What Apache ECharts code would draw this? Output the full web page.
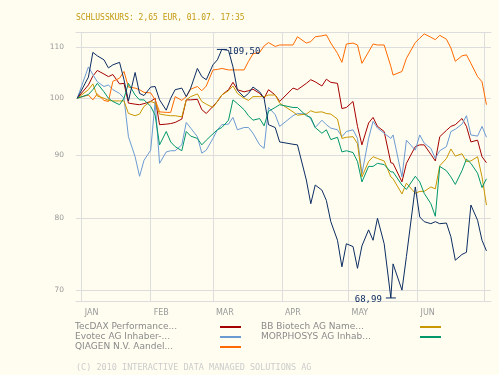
<!DOCTYPE html>
<html>
<head>
<meta charset="utf-8">
<script src="https://cdn.jsdelivr.net/npm/echarts@6/dist/echarts.min.js"></script>
<style>
	html, body { margin: 0; padding: 0; background: #fffdf0; }
	#chart { width: 499px; height: 375px; }
</style>
</head>
<body>
<div id="chart"></div>
<script>
var dates = ['2009-12-30', '2010-01-04', '2010-01-06', '2010-01-08', '2010-01-11', '2010-01-13', '2010-01-15', '2010-01-18', '2010-01-20', '2010-01-22', '2010-01-25', '2010-01-27', '2010-01-29',
	'2010-02-01', '2010-02-03', '2010-02-05', '2010-02-08', '2010-02-10', '2010-02-12', '2010-02-15', '2010-02-17', '2010-02-19', '2010-02-22', '2010-02-24', '2010-02-26',
	'2010-03-01', '2010-03-03', '2010-03-05', '2010-03-08', '2010-03-10', '2010-03-12', '2010-03-15', '2010-03-17', '2010-03-19', '2010-03-22', '2010-03-24', '2010-03-26', '2010-03-29', '2010-03-31',
	'2010-04-06', '2010-04-08', '2010-04-12', '2010-04-14', '2010-04-16', '2010-04-19', '2010-04-21', '2010-04-23', '2010-04-26', '2010-04-28', '2010-04-30',
	'2010-05-03', '2010-05-05', '2010-05-07', '2010-05-10', '2010-05-12', '2010-05-14', '2010-05-17', '2010-05-20', '2010-05-21', '2010-05-25', '2010-05-27', '2010-05-31',
	'2010-06-02', '2010-06-04', '2010-06-07', '2010-06-09', '2010-06-11', '2010-06-14', '2010-06-16', '2010-06-18', '2010-06-21', '2010-06-23', '2010-06-25', '2010-06-28', '2010-06-30', '2010-07-02'];

// Aktie (normiert auf 100)
var mainValues = [100, 104, 108.9, 108.2, 107.4, 105.8, 106.4, 106.9, 103.5, 99.5, 104.9, 100.9, 100.5,
	102.1, 102.2, 99.7, 97.8, 100.0, 101.6, 101.9, 100.3, 101.9, 105.7, 104.1, 103.5,
	106.4, 107.4, 109.5, 109.3, 106.0, 101.5, 100.2, 100.9, 102.1, 101.2, 100.0, 95.2, 94.7, 92.2,
	91.8, 91.7, 85.9, 82.2, 85.1, 84.3, 82.7, 79.5, 76.8, 73.1, 76.3,
	75.9, 72.9, 76.0, 78.3, 76.8, 80.0, 76.3, 68.99, 73.5, 70.0, 74.5, 84.8,
	80.2, 79.5, 79.2, 79.5, 79.2, 79.3, 77.3, 74.0, 74.8, 75.1, 82.0, 79.7, 76.8, 75.3];
var tecdaxValues = [100, 102.5, 104.2, 105.3, 104.6, 104.1, 104.5, 102.7, 102.8, 99.1, 98.9, 98.8, 99.0,
	99.4, 100.0, 95.2, 95.3, 95.4, 95.6, 96.2, 99.7, 99.7, 99.8, 97.9, 97.2,
	98.5, 99.4, 100.6, 101.6, 103.0, 101.6, 101.2, 101.4, 101.7, 100.9, 100.0, 101.6, 100.6, 99.4,
	101.9, 101.6, 102.8, 103.5, 103.1, 102.3, 103.6, 103.0, 102.8, 98.1, 98.3,
	99.4, 94.9, 91.7, 95.5, 96.5, 94.9, 94.0, 88.7, 88.6, 85.6, 88.6, 91.4,
	91.7, 91.7, 90.1, 89.0, 93.1, 94.2, 94.9, 95.2, 96.3, 94.9, 92.2, 92.5, 89.7, 88.7];
var evotecValues = [100, 106.0, 104.5, 103.1, 102.2, 102.5, 101.6, 100.9, 100.0, 93.1, 89.7, 86.5, 89.1,
	90.8, 99.4, 88.6, 90.5, 90.7, 90.7, 91.7, 95.6, 94.6, 93.1, 90.3, 90.8,
	92.8, 94.3, 95.2, 95.3, 96.5, 94.3, 94.7, 94.7, 93.7, 91.7, 91.1, 98.3, 97.0, 94.9,
	96.8, 97.2, 97.1, 96.2, 94.7, 96.0, 95.2, 94.6, 94.3, 93.1, 94.0,
	94.3, 92.8, 86.9, 92.8, 95.8, 94.6, 93.7, 92.8, 93.4, 86.4, 92.5, 90.8,
	93.4, 92.0, 91.1, 89.4, 90.7, 91.4, 94.0, 94.4, 95.3, 96.8, 93.4, 93.2, 94.9, 93.0];
var qiagenValues = [100, 100.6, 99.7, 100.8, 99.6, 99.4, 103.2, 103.8, 105.1, 102.1, 101.9, 101.6, 101.1,
	101.0, 99.7, 97.5, 97.4, 97.4, 100.3, 99.6, 100.3, 101.7, 102.2, 101.4, 102.3,
	105.4, 105.5, 105.7, 105.4, 105.4, 105.4, 105.4, 107.1, 108.6, 108.9, 110.2, 110.9, 110.1, 110.4,
	110.4, 112.1, 110.8, 111.1, 112.1, 112.3, 112.5, 110.8, 108.7, 106.9, 110.6,
	110.8, 110.4, 106.7, 109.0, 110.6, 110.4, 110.4, 106.1, 104.4, 105.1, 107.7, 110.9,
	111.8, 112.7, 112.0, 111.5, 112.4, 111.6, 109.8, 107.1, 108.2, 108.4, 106.7, 104.1, 103.1, 98.8];
var bbBiotechValues = [100, 101.6, 102.7, 100.4, 100.0, 99.6, 99.5, 99.5, 99.5, 97.2, 96.8, 97.1, 98.5,
	99.4, 99.1, 97.1, 96.9, 96.8, 96.8, 96.6, 99.7, 100.3, 100.8, 99.4, 98.9,
	98.3, 99.4, 100.6, 101.4, 102.3, 100.9, 100.0, 99.6, 100.3, 100.3, 100.3, 100.6, 100.6, 99.1,
	97.5, 96.9, 97.1, 97.7, 97.4, 97.5, 97.2, 97.1, 96.2, 92.8, 93.0,
	93.1, 91.9, 86.4, 88.9, 89.7, 89.4, 89.0, 86.4, 86.1, 83.7, 85.4, 83.8,
	84.1, 84.1, 84.8, 84.5, 88.2, 89.4, 91.0, 89.8, 90.2, 88.9, 89.0, 89.7, 86.4, 82.0];
var morphosysValues = [100, 100.7, 101.6, 102.8, 101.2, 100.0, 99.4, 98.8, 100.0, 102.8, 100.6, 99.7, 99.7,
	98.5, 96.9, 91.7, 94.0, 92.2, 91.4, 90.7, 94.0, 93.2, 92.8, 91.7, 92.5,
	93.6, 94.3, 94.7, 96.0, 99.7, 99.0, 97.9, 96.8, 96.0, 96.3, 95.0, 97.6, 98.3, 98.8,
	98.3, 98.3, 96.8, 96.5, 94.7, 93.7, 94.3, 92.6, 93.0, 90.5, 90.7,
	90.4, 88.9, 85.6, 88.1, 88.1, 88.6, 88.4, 87.2, 87.2, 85.1, 84.4, 86.5,
	85.6, 83.8, 82.2, 80.3, 88.1, 87.4, 86.4, 85.2, 87.4, 89.3, 88.6, 87.0, 84.7, 86.1];

var yTicks = [70, 80, 90, 100, 110];
var monthStarts = ['2010-01-01', '2010-02-01', '2010-03-01', '2010-04-01', '2010-05-01', '2010-06-01', '2010-07-01'];
var monthLabels = ['JAN', 'FEB', 'MAR', 'APR', 'MAY', 'JUN', ''];

var legendLeft = ['TecDAX Performance...', 'Evotec AG Inhaber-...', 'QIAGEN N.V. Aandel...'];
var legendRight = ['BB Biotech AG Name...', 'MORPHOSYS AG Inhab...'];

function toTime(s) {
	var p = s.split('-');
	return new Date(+p[0], +p[1] - 1, +p[2]).getTime();
}

var monthTimes = monthStarts.map(toTime);
var xMin = toTime('2009-12-29') + 10 * 3600000;
var xMax = toTime('2010-07-04') + 3600000;

function pairs(values) {
	var out = [];
	for(var i = 0; i < dates.length; i ++) {
		out.push([toTime(dates[i]), values[i]]);
	}
	return out;
}

function line(name, values, color) {
	return {
		name: name,
		type: 'line',
		showSymbol: false,
		symbol: 'none',
		data: pairs(values),
		lineStyle: { color: color, width: 1 },
		itemStyle: { color: color },
		emphasis: { disabled: true }
	};
}

var mainSeries = line('Aktie', mainValues, '#0c2d62');
mainSeries.markPoint = {
	symbol: 'rect',
	symbolSize: [10, 1],
	itemStyle: { color: '#0c2d62' },
	label: {
		color: '#0c2d62',
		fontFamily: 'DejaVu Sans Mono',
		fontSize: 9,
		formatter: function(p) { return p.value.toFixed(2).replace('.', ','); }
	},
	data: [
		{ type: 'max', label: { position: 'right', distance: 1, offset: [0, 2] } },
		{ type: 'min', label: { position: 'left', distance: 4, offset: [0, 2] } }
	]
};

function legendBlock(names, left, width) {
	return {
		orient: 'vertical',
		left: left,
		top: 322,
		padding: 0,
		itemGap: 0,
		align: 'right',
		icon: 'rect',
		itemWidth: 21,
		itemHeight: 2,
		selectedMode: false,
		data: names,
		formatter: function(name) { return '{a|' + name + '}'; },
		textStyle: {
			rich: {
				a: { width: width, align: 'left', fontFamily: 'DejaVu Sans', fontSize: 9, color: '#8a8a8a', lineHeight: 10, height: 10 }
			}
		}
	};
}

var chart = echarts.init(document.getElementById('chart'), null, { renderer: 'canvas' });
chart.setOption({
	animation: false,
	backgroundColor: '#fffdf0',
	title: [{
		text: 'SCHLUSSKURS: 2,65 EUR, 01.07. 17:35',
		left: 76,
		top: 14,
		padding: 0,
		textStyle: { fontFamily: 'DejaVu Sans Mono', fontSize: 8, fontWeight: 'normal', color: '#c39a12' }
	}, {
		text: '(C) 2010 INTERACTIVE DATA MANAGED SOLUTIONS AG',
		left: 76,
		top: 363,
		padding: 0,
		textStyle: { fontFamily: 'DejaVu Sans Mono', fontSize: 8.5, fontWeight: 'normal', color: '#cccccc' }
	}],
	legend: [
		legendBlock(legendLeft, 75, 140),
		legendBlock(legendRight, 261, 154)
	],
	grid: { left: 76, right: 8, top: 32, bottom: 74 },
	xAxis: [{
		type: 'value',
		min: xMin,
		max: xMax,
		axisLine: { show: true, lineStyle: { color: '#dddddd', width: 1 } },
		axisTick: { show: false, customValues: monthTimes },
		splitLine: { show: true, lineStyle: { color: '#dddddd', width: 1 } },
		axisLabel: {
			customValues: monthTimes,
			align: 'left',
			margin: 8,
			padding: [0, 0, 0, 3],
			fontFamily: 'DejaVu Sans',
			fontSize: 8,
			color: '#999999',
			formatter: function(v) {
				var d = new Date(v);
				return d.getFullYear() === 2010 ? monthLabels[d.getMonth()] : '';
			}
		}
	}, {
		type: 'value',
		position: 'top',
		min: xMin,
		max: xMax,
		axisLine: { show: true, lineStyle: { color: '#dddddd', width: 1 } },
		axisTick: { show: false },
		axisLabel: { show: false },
		splitLine: { show: false }
	}],
	yAxis: {
		type: 'log',
		min: 68.6,
		max: 113.1,
		axisLine: { show: false },
		axisTick: { show: false, customValues: yTicks },
		splitLine: { show: true, lineStyle: { color: '#dddddd', width: 1 } },
		axisLabel: {
			customValues: yTicks,
			margin: 12,
			fontFamily: 'DejaVu Sans',
			fontSize: 7.5,
			color: '#999999'
		}
	},
	series: [
		line(legendLeft[0], tecdaxValues, '#a50000'),
		line(legendLeft[1], evotecValues, '#6c9bd2'),
		line(legendLeft[2], qiagenValues, '#ff6a00'),
		line(legendRight[0], bbBiotechValues, '#c99700'),
		line(legendRight[1], morphosysValues, '#00976b'),
		mainSeries
	]
});
</script>
</body>
</html>
